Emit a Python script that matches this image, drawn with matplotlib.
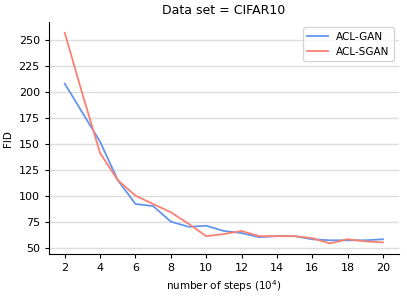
import matplotlib
matplotlib.use("Agg")
import matplotlib.pyplot as plt

steps = list(range(2, 21))
acl_gan = [208, 180, 152, 115, 92, 90, 75, 70, 71, 66, 64, 60, 61, 61, 58, 57, 57, 57, 58]
acl_sgan = [257, 198, 141, 115, 100, 92, 84, 73, 61, 63, 66, 61, 61, 61, 59, 54, 58, 56, 55]
xticks = list(range(2, 21, 2))
yticks = [50, 75, 100, 125, 150, 175, 200, 225, 250]

fig, ax = plt.subplots(figsize=(4.07, 2.97), dpi=100)
ax.plot(steps, acl_gan, color="#6495ED", lw=1.3, label="ACL-GAN")
ax.plot(steps, acl_sgan, color="#FA8072", lw=1.3, label="ACL-SGAN")
ax.set_xticks(xticks)
ax.set_yticks(yticks)
ax.yaxis.grid(True, color="#dddddd", lw=1.0)
ax.set_axisbelow(True)
for s in ["top", "right"]:
    ax.spines[s].set_visible(False)
ax.tick_params(labelsize=8, length=3, width=0.8)
ax.set_xlabel("number of steps ($10^4$)", fontsize=7.5)
ax.set_ylabel("FID", fontsize=7.5)
ax.set_title("Data set = CIFAR10", fontsize=9)
ax.legend(fontsize=7.5, loc="upper right", frameon=True)
fig.subplots_adjust(left=0.12, right=0.98, bottom=0.145, top=0.925)
fig.savefig("out.png", dpi=100)
